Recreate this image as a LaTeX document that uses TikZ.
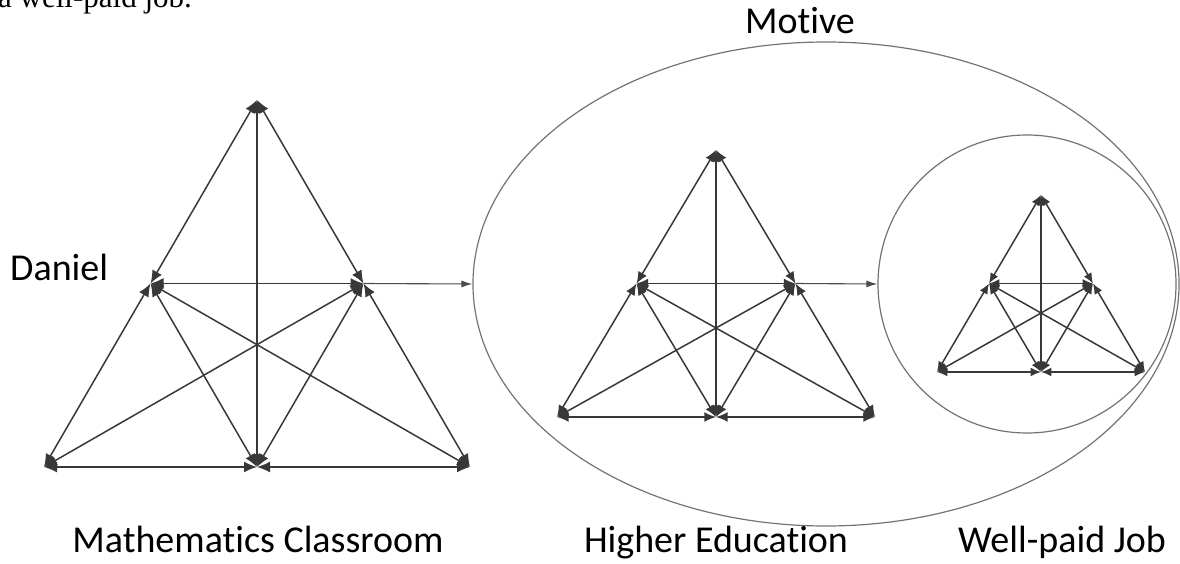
\documentclass[tikz,border=0pt]{standalone}
\usepackage{fontspec}
\setmainfont{Carlito}[Ligatures=NoCommon]
\newfontfamily\textserif{Liberation Serif}
\usetikzlibrary{arrows.meta,calc,shapes.geometric}

\tikzset{
  link/.style={draw=black!78, line width=1.5pt,
    {Latex[length=13pt,width=11pt,scale=#1]}-{Latex[length=13pt,width=11pt,scale=#1]}},
  flow/.style={draw=black!70, line width=1.1pt, -{Latex[length=11pt,width=7pt]}},
  rim/.style={draw=black!55, line width=1.2pt, inner sep=0pt},
  lbl/.style={font=\fontsize{38}{40}\selectfont, anchor=base, inner sep=0pt},
}

\begin{document}
\begin{tikzpicture}[x=1pt,y=1pt,yscale=-1]
  \useasboundingbox (0,0) rectangle (1180,564);
  \clip (0,0) rectangle (1180,564);
  % end of the sentence above the figure
  \node[font=\textserif\fontsize{31}{31}\selectfont, anchor=base west, inner sep=0pt] (prev) at (-2,8) {a well-paid job.};
  % motive and job
  \node[rim, ellipse, minimum width=706pt, minimum height=484pt] (motive) at (826,284) {};
  \node[rim, circle, minimum size=298pt] (job) at (1027,284) {};
  % the three triangles
  \foreach \tri/\ax/\ay/\hw/\by/\tipsc in {c/257/100/213/467/1, h/716/150/159/417/0.9, w/1041/195/104/372/0.8}{
    \coordinate (\tri-t) at (\ax,\ay);
    \coordinate (\tri-bl) at (\ax-\hw,\by);
    \coordinate (\tri-br) at (\ax+\hw,\by);
    \coordinate (\tri-bm) at (\ax,\by);
    \coordinate (\tri-ml) at ($(\tri-t)!0.5!(\tri-bl)$);
    \coordinate (\tri-mr) at ($(\tri-t)!0.5!(\tri-br)$);
    \foreach \p/\q in {t/ml,ml/bl,t/mr,mr/br,t/bm,ml/mr,ml/bm,ml/br,mr/bl,mr/bm,bl/bm,bm/br}
      \draw[link=\tipsc] (\tri-\p) -- (\tri-\q);
  }
  \draw[flow] (c-mr) -- (motive.west);
  \draw[flow] (h-mr) -- (job.west);
  % labels
  \node[lbl, anchor=base west] (daniel) at (10,280) {Daniel};
  \node[lbl] (motivetext) at (800,34) {Motive};
  \node[lbl] (classroom) at (258,552) {Mathematics Classroom};
  \node[lbl] (education) at (716,552) {Higher Education};
  \node[lbl] (jobtext) at (1062,552) {Well-paid Job};
\end{tikzpicture}
\end{document}
